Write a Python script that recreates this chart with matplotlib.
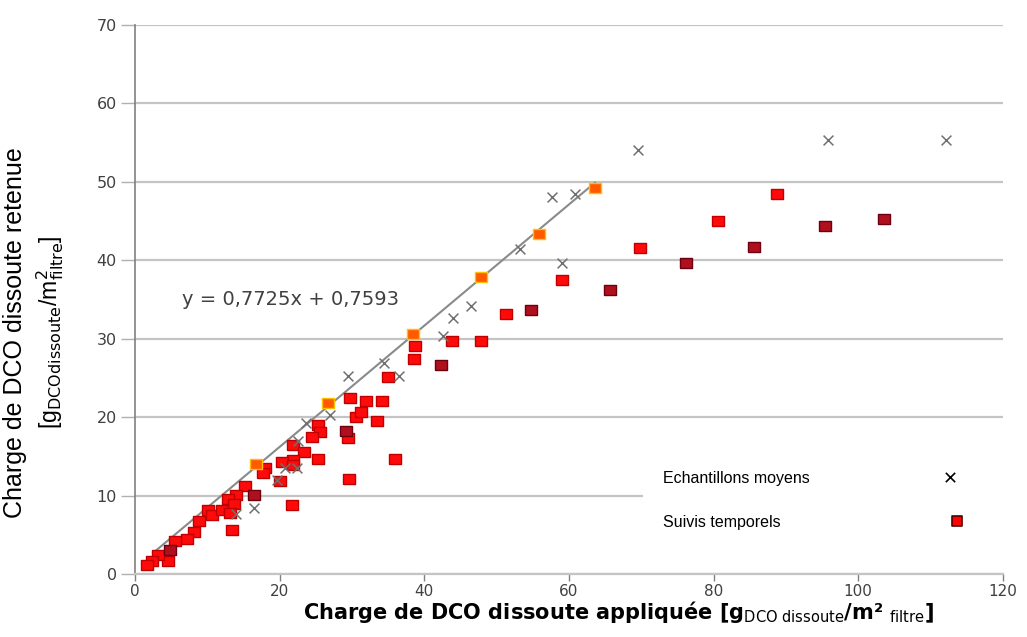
import numpy as np
import matplotlib.pyplot as plt
from matplotlib.patches import Rectangle

# Echantillons moyens (croix grises)
ech_x = [112.2, 95.8, 69.5, 57.6, 60.8, 53.2, 59.1, 46.5, 44.0, 42.6, 34.4, 36.5,
         29.4, 27.0, 23.7, 22.6, 20.7, 22.4, 19.6, 16.5, 14.0]
ech_y = [55.3, 55.3, 54.1, 48.1, 48.4, 41.4, 39.6, 34.2, 32.6, 30.3, 26.9, 25.2,
         25.2, 20.3, 19.2, 16.9, 13.5, 13.5, 12.0, 8.4, 7.7]

# Suivis temporels (carres rouges)
suivi_x = [80.6, 69.8, 59.1, 51.3, 43.8, 47.8, 88.8, 38.7, 38.6, 35.0, 29.7, 32.0,
           34.1, 30.6, 31.3, 33.4, 25.3, 25.6, 29.5, 24.4, 21.9, 23.4, 25.3, 35.9,
           21.8, 20.3, 21.9, 18.0, 17.7, 20.1, 29.6, 15.2, 14.0, 21.7, 12.9, 13.7,
           10.1, 10.6, 12.0, 13.1, 13.4, 8.8, 8.1, 7.2, 5.5, 4.6, 3.2, 2.3, 1.6]
suivi_y = [45.0, 41.6, 37.5, 33.2, 29.7, 29.7, 48.5, 29.1, 27.4, 25.1, 22.5, 22.0,
           22.0, 20.0, 20.6, 19.5, 19.0, 18.1, 17.3, 17.5, 16.5, 15.5, 14.6, 14.6,
           14.5, 14.3, 13.9, 13.5, 12.9, 11.9, 12.1, 11.2, 10.1, 8.8, 9.6, 8.9,
           8.2, 7.5, 8.1, 7.8, 5.6, 6.7, 5.4, 4.4, 4.2, 1.6, 2.4, 1.6, 1.1]

# suivis temporels, teinte foncee
fonce_x = [85.6, 95.4, 103.5, 76.2, 65.7, 54.8, 42.3, 29.2, 16.5, 4.9]
fonce_y = [41.7, 44.4, 45.2, 39.7, 36.2, 33.7, 26.6, 18.2, 10.1, 3.1]

# suivis temporels, teinte orange (sur la droite)
orange_x = [63.6, 55.8, 47.8, 38.4, 26.7, 16.7]
orange_y = [49.2, 43.4, 37.8, 30.6, 21.8, 14.0]

# regression
pente = 0.7725
origine = 0.7593
reg_x = np.array([2.5, 63.6])

rect = [(-1.25, -1), (1.25, -1), (1.25, 1), (-1.25, 1), (-1.25, -1)]

fig = plt.figure(figsize=(10.27, 6.37), dpi=100)
ax = fig.add_axes([0.1315, 0.0989, 0.845, 0.862])

ax.set_xlim(0, 120)
ax.set_ylim(0, 70)
ax.set_xticks(np.arange(0, 121, 20))
ax.set_yticks(np.arange(0, 71, 10))
ax.yaxis.grid(True, color="#c4c4c4", linewidth=1.6)
ax.set_axisbelow(True)
for s in ["top", "right"]:
    ax.spines[s].set_visible(False)
ax.spines["left"].set_color("#808080")
ax.spines["left"].set_linewidth(1.2)
ax.spines["bottom"].set_color("#c4c4c4")
ax.spines["bottom"].set_linewidth(1.6)
ax.tick_params(axis="y", length=10, width=1, color="#b0b0b0", pad=3,
               labelsize=11.5, labelcolor="#404040")
ax.tick_params(axis="x", length=5, width=1, color="#808080", pad=2,
               labelsize=11, labelcolor="#404040")

ax.plot(reg_x, pente * reg_x + origine, color="#8a8a8a", linewidth=1.5, zorder=2)

ax.scatter(suivi_x, suivi_y, marker=rect, s=75, color="#ff0a0a",
           edgecolors="#c00000", linewidths=1.0, zorder=3)
ax.scatter(fonce_x, fonce_y, marker=rect, s=75, color="#b0101e",
           edgecolors="#6a0010", linewidths=1.0, zorder=3)
ax.scatter(orange_x, orange_y, marker=rect, s=75, color="#ff5a00",
           edgecolors="#ffc000", linewidths=1.0, zorder=3)
ax.scatter(ech_x, ech_y, marker="x", s=50, color="#707070",
           linewidths=1.1, zorder=4)

ax.text(6.5, 35, "y = 0,7725x + 0,7593", fontsize=14, color="#404040",
        va="center")

ax.set_xlabel(r"Charge de DCO dissoute appliquée [g$_{\mathrm{DCO\ dissoute}}$/m² $_{\mathrm{filtre}}$]",
              fontsize=15, fontweight="bold", va="top")
ax.xaxis.set_label_coords(0.557, -0.045)
ax.set_ylabel("Charge de DCO dissoute retenue", fontsize=18,
              family="Liberation Sans")
ax.yaxis.set_label_coords(-0.124, 0.44)
ax.text(-0.079, 0.44, r"[g$_{\mathrm{DCOdissoute}}$/m$^{2}_{\mathrm{filtre}}$]",
        transform=ax.transAxes, rotation=90, fontsize=16.5, family="Liberation Sans",
        ha="right", va="center")

# legende (cadre blanc sur la grille)
ax.add_patch(Rectangle((70.2, 2.0), 52, 13.3, facecolor="white", edgecolor="none",
                       zorder=1, clip_on=False))
ax.text(73.0, 12.2, "Echantillons moyens", fontsize=11.5, family="Liberation Sans",
        va="center", ha="left", zorder=5)
ax.text(73.0, 6.6, "Suivis temporels", fontsize=11.5, family="Liberation Sans",
        va="center", ha="left", zorder=5)
ax.scatter([112.7], [12.4], marker="x", s=45, color="black", linewidths=1.2, zorder=5)
ax.scatter([113.6], [6.8], marker="s", s=60, color="#ff0000",
           edgecolors="#500000", linewidths=1.2, zorder=5)

plt.savefig("out.png", dpi=100)
plt.close()
